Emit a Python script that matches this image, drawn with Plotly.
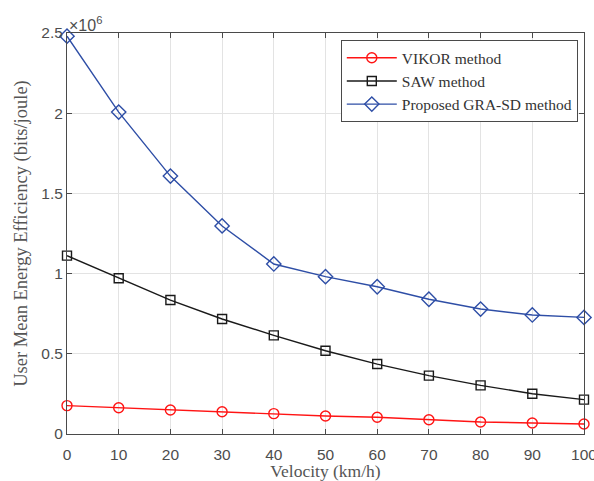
import plotly.graph_objects as go

velocity = [0, 10, 20, 30, 40, 50, 60, 70, 80, 90, 100]
vikor = [0.177, 0.164, 0.150, 0.139, 0.127, 0.112, 0.104, 0.089, 0.075, 0.069, 0.062]
saw = [1.112, 0.971, 0.835, 0.717, 0.615, 0.519, 0.436, 0.364, 0.303, 0.251, 0.214]
gra_sd = [2.48, 2.007, 1.608, 1.297, 1.06, 0.981, 0.918, 0.840, 0.779, 0.742, 0.727]
y_ticks = [0, 0.5, 1, 1.5, 2, 2.5]
y_tick_labels = ["0", "0.5", "1", "1.5", "2", "2.5"]
x_ticks = [0, 10, 20, 30, 40, 50, 60, 70, 80, 90, 100]

SERIF = "Liberation Serif"
SANS = "Liberation Sans"

fig = go.Figure()
series = [
    ("VIKOR method", vikor, "#ff1414", "circle-open", 10),
    ("SAW method", saw, "#1a1a1a", "square-open", 9),
    ("Proposed GRA-SD method", gra_sd, "#2e4ea6", "diamond-open", 11),
]
for name, vals, col, sym, sz in series:
    fig.add_trace(go.Scatter(
        x=velocity, y=vals, name=name, mode="lines+markers",
        line=dict(color=col, width=1.4),
        marker=dict(symbol=sym, size=sz, color=col, line=dict(width=1.4, color=col)),
        cliponaxis=False,
    ))

axis_common = dict(
    showgrid=True, gridcolor="#e3e3e3", gridwidth=1,
    showline=True, linecolor="#4a4a4a", linewidth=1, mirror="ticks",
    ticks="inside", ticklen=5, tickcolor="#4a4a4a",
    tickfont=dict(family=SANS, size=15.5, color="#4d4d4d"),
    zeroline=False, ticklabeloverflow="allow", automargin=False,
)
fig.update_xaxes(range=[0, 100], tickvals=x_ticks, ticklabelstandoff=6,
                 title=dict(text="Velocity (km/h)", standoff=6,
                            font=dict(family=SERIF, size=17.5, color="#555555")),
                 **axis_common)
fig.update_yaxes(range=[0, 2.5], tickvals=y_ticks, ticktext=y_tick_labels,
                 title=dict(text="User Mean Energy Efficiency (bits/joule)", standoff=8,
                            font=dict(family=SERIF, size=18.5, color="#555555")),
                 **axis_common)

fig.add_annotation(x=0, y=1.0, xref="paper", yref="paper", xanchor="left", yanchor="bottom",
                   text="×10<sup>6</sup>", showarrow=False, yshift=-3,
                   font=dict(family=SANS, size=16, color="#4d4d4d"))

fig.update_layout(
    width=594, height=481,
    margin=dict(l=67, r=10, t=33, b=47),
    paper_bgcolor="white", plot_bgcolor="white",
    showlegend=True,
    legend=dict(x=0.988, y=0.982, xanchor="right", yanchor="top",
                bgcolor="white", bordercolor="#4a4a4a", borderwidth=1,
                font=dict(family=SERIF, size=15.5, color="#333333"),
                tracegroupgap=0, itemwidth=50),
)
fig.write_html("out.html")
